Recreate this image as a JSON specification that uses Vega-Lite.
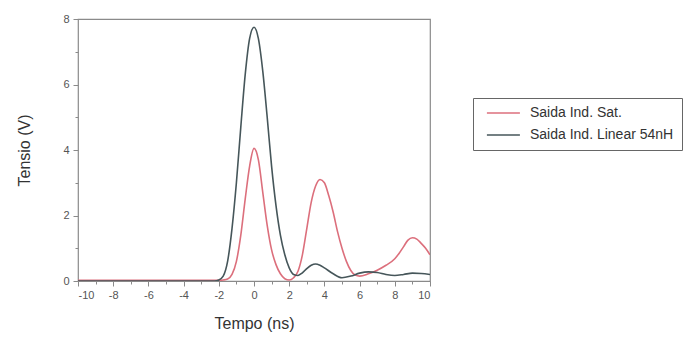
{
  "$schema": "https://vega.github.io/schema/vega-lite/v6.json",
  "autosize": "none",
  "width": 352,
  "height": 262,
  "padding": {"left": 78, "top": 19, "right": 263, "bottom": 59},
  "background": "white",
  "config": {
    "view": {"stroke": "#8a8a8a", "strokeWidth": 1.2},
    "font": "Liberation Sans"
  },
  "datasets": {
    "curves": [
      {"t": -10, "v": 0.02, "s": "Saida Ind. Sat."},
      {"t": -6, "v": 0.02, "s": "Saida Ind. Sat."},
      {"t": -2, "v": 0.02, "s": "Saida Ind. Sat."},
      {"t": -1.75, "v": 0.03, "s": "Saida Ind. Sat."},
      {"t": -1.5, "v": 0.06, "s": "Saida Ind. Sat."},
      {"t": -1.25, "v": 0.2, "s": "Saida Ind. Sat."},
      {"t": -1, "v": 0.6, "s": "Saida Ind. Sat."},
      {"t": -0.75, "v": 1.4, "s": "Saida Ind. Sat."},
      {"t": -0.5, "v": 2.5, "s": "Saida Ind. Sat."},
      {"t": -0.25, "v": 3.5, "s": "Saida Ind. Sat."},
      {"t": 0, "v": 4.05, "s": "Saida Ind. Sat."},
      {"t": 0.25, "v": 3.7, "s": "Saida Ind. Sat."},
      {"t": 0.5, "v": 2.7, "s": "Saida Ind. Sat."},
      {"t": 0.75, "v": 1.7, "s": "Saida Ind. Sat."},
      {"t": 1, "v": 0.95, "s": "Saida Ind. Sat."},
      {"t": 1.25, "v": 0.5, "s": "Saida Ind. Sat."},
      {"t": 1.5, "v": 0.22, "s": "Saida Ind. Sat."},
      {"t": 1.75, "v": 0.07, "s": "Saida Ind. Sat."},
      {"t": 2, "v": 0.03, "s": "Saida Ind. Sat."},
      {"t": 2.25, "v": 0.1, "s": "Saida Ind. Sat."},
      {"t": 2.5, "v": 0.3, "s": "Saida Ind. Sat."},
      {"t": 2.75, "v": 0.8, "s": "Saida Ind. Sat."},
      {"t": 3, "v": 1.6, "s": "Saida Ind. Sat."},
      {"t": 3.25, "v": 2.4, "s": "Saida Ind. Sat."},
      {"t": 3.5, "v": 2.9, "s": "Saida Ind. Sat."},
      {"t": 3.75, "v": 3.1, "s": "Saida Ind. Sat."},
      {"t": 4, "v": 3.0, "s": "Saida Ind. Sat."},
      {"t": 4.25, "v": 2.6, "s": "Saida Ind. Sat."},
      {"t": 4.5, "v": 2.1, "s": "Saida Ind. Sat."},
      {"t": 4.75, "v": 1.5, "s": "Saida Ind. Sat."},
      {"t": 5, "v": 1.0, "s": "Saida Ind. Sat."},
      {"t": 5.25, "v": 0.6, "s": "Saida Ind. Sat."},
      {"t": 5.5, "v": 0.32, "s": "Saida Ind. Sat."},
      {"t": 5.75, "v": 0.18, "s": "Saida Ind. Sat."},
      {"t": 6, "v": 0.15, "s": "Saida Ind. Sat."},
      {"t": 6.5, "v": 0.22, "s": "Saida Ind. Sat."},
      {"t": 7, "v": 0.33, "s": "Saida Ind. Sat."},
      {"t": 7.5, "v": 0.48, "s": "Saida Ind. Sat."},
      {"t": 8, "v": 0.68, "s": "Saida Ind. Sat."},
      {"t": 8.25, "v": 0.85, "s": "Saida Ind. Sat."},
      {"t": 8.5, "v": 1.05, "s": "Saida Ind. Sat."},
      {"t": 8.75, "v": 1.25, "s": "Saida Ind. Sat."},
      {"t": 9, "v": 1.32, "s": "Saida Ind. Sat."},
      {"t": 9.25, "v": 1.28, "s": "Saida Ind. Sat."},
      {"t": 9.5, "v": 1.15, "s": "Saida Ind. Sat."},
      {"t": 9.75, "v": 1.0, "s": "Saida Ind. Sat."},
      {"t": 10, "v": 0.8, "s": "Saida Ind. Sat."},
      {"t": -10, "v": 0, "s": "Saida Ind. Linear 54nH"},
      {"t": -6, "v": 0, "s": "Saida Ind. Linear 54nH"},
      {"t": -2.25, "v": 0, "s": "Saida Ind. Linear 54nH"},
      {"t": -2, "v": 0.03, "s": "Saida Ind. Linear 54nH"},
      {"t": -1.75, "v": 0.15, "s": "Saida Ind. Linear 54nH"},
      {"t": -1.5, "v": 0.6, "s": "Saida Ind. Linear 54nH"},
      {"t": -1.25, "v": 1.6, "s": "Saida Ind. Linear 54nH"},
      {"t": -1, "v": 3.0, "s": "Saida Ind. Linear 54nH"},
      {"t": -0.75, "v": 4.7, "s": "Saida Ind. Linear 54nH"},
      {"t": -0.5, "v": 6.3, "s": "Saida Ind. Linear 54nH"},
      {"t": -0.25, "v": 7.4, "s": "Saida Ind. Linear 54nH"},
      {"t": 0, "v": 7.75, "s": "Saida Ind. Linear 54nH"},
      {"t": 0.25, "v": 7.4, "s": "Saida Ind. Linear 54nH"},
      {"t": 0.5, "v": 6.4, "s": "Saida Ind. Linear 54nH"},
      {"t": 0.75, "v": 5.0, "s": "Saida Ind. Linear 54nH"},
      {"t": 1, "v": 3.5, "s": "Saida Ind. Linear 54nH"},
      {"t": 1.25, "v": 2.3, "s": "Saida Ind. Linear 54nH"},
      {"t": 1.5, "v": 1.4, "s": "Saida Ind. Linear 54nH"},
      {"t": 1.75, "v": 0.8, "s": "Saida Ind. Linear 54nH"},
      {"t": 2, "v": 0.4, "s": "Saida Ind. Linear 54nH"},
      {"t": 2.25, "v": 0.2, "s": "Saida Ind. Linear 54nH"},
      {"t": 2.5, "v": 0.17, "s": "Saida Ind. Linear 54nH"},
      {"t": 2.75, "v": 0.25, "s": "Saida Ind. Linear 54nH"},
      {"t": 3, "v": 0.38, "s": "Saida Ind. Linear 54nH"},
      {"t": 3.25, "v": 0.48, "s": "Saida Ind. Linear 54nH"},
      {"t": 3.5, "v": 0.52, "s": "Saida Ind. Linear 54nH"},
      {"t": 3.75, "v": 0.48, "s": "Saida Ind. Linear 54nH"},
      {"t": 4, "v": 0.4, "s": "Saida Ind. Linear 54nH"},
      {"t": 4.5, "v": 0.22, "s": "Saida Ind. Linear 54nH"},
      {"t": 5, "v": 0.1, "s": "Saida Ind. Linear 54nH"},
      {"t": 5.5, "v": 0.15, "s": "Saida Ind. Linear 54nH"},
      {"t": 6, "v": 0.24, "s": "Saida Ind. Linear 54nH"},
      {"t": 6.5, "v": 0.28, "s": "Saida Ind. Linear 54nH"},
      {"t": 7, "v": 0.26, "s": "Saida Ind. Linear 54nH"},
      {"t": 7.5, "v": 0.2, "s": "Saida Ind. Linear 54nH"},
      {"t": 8, "v": 0.17, "s": "Saida Ind. Linear 54nH"},
      {"t": 8.5, "v": 0.2, "s": "Saida Ind. Linear 54nH"},
      {"t": 9, "v": 0.24, "s": "Saida Ind. Linear 54nH"},
      {"t": 9.5, "v": 0.23, "s": "Saida Ind. Linear 54nH"},
      {"t": 10, "v": 0.2, "s": "Saida Ind. Linear 54nH"}
    ]
  },
  "data": {"name": "curves"},
  "mark": {"type": "line", "interpolate": "monotone", "strokeWidth": 1.6, "clip": true},
  "encoding": {
    "x": {
      "field": "t", "type": "quantitative",
      "scale": {"domain": [-10, 10], "nice": false, "zero": false},
      "axis": {
        "title": "Tempo (ns)",
        "values": [-10,-9,-8,-7,-6,-5,-4,-3,-2,-1,0,1,2,3,4,5,6,7,8,9,10],
        "labelExpr": "datum.value % 2 === 0 ? '' + datum.value : ''",
        "tickSize": {"condition": {"test": "datum.value % 2 !== 0", "value": 3}, "value": 5},
        "grid": false, "domain": false,
        "tickColor": "#8a8a8a", "labelColor": "#555555", "labelFontSize": 11,
        "labelPadding": 3,
        "titleFontSize": 16, "titleFontWeight": "normal", "titleColor": "#333333",
        "titlePadding": 15
      }
    },
    "y": {
      "field": "v", "type": "quantitative",
      "scale": {"domain": [0, 8], "nice": false},
      "axis": {
        "title": "Tensio (V)",
        "values": [0,1,2,3,4,5,6,7,8],
        "labelExpr": "datum.value % 2 === 0 ? '' + datum.value : ''",
        "tickSize": {"condition": {"test": "datum.value % 2 !== 0", "value": 3}, "value": 5},
        "grid": false, "domain": false,
        "tickColor": "#8a8a8a", "labelColor": "#555555", "labelFontSize": 11,
        "labelPadding": 4,
        "titleFontSize": 16, "titleFontWeight": "normal", "titleColor": "#333333",
        "titlePadding": 30
      }
    },
    "color": {
      "field": "s", "type": "nominal",
      "scale": {"domain": ["Saida Ind. Sat.", "Saida Ind. Linear 54nH"], "range": ["#dc6f7c", "#46565a"]},
      "legend": {
        "title": null,
        "orient": "none",
        "legendX": 395,
        "legendY": 79,
        "symbolType": "M-0.2,0L5.8,0",
        "symbolSize": 121,
        "symbolStrokeWidth": 1.5,
        "labelFontSize": 14,
        "labelColor": "#333333",
        "labelOffset": 35,
        "rowPadding": 8,
        "padding": 8,
        "strokeColor": "#666666",
        "fillColor": "white",
        "labelLimit": 300,
        "offset": 0
      }
    }
  }
}
